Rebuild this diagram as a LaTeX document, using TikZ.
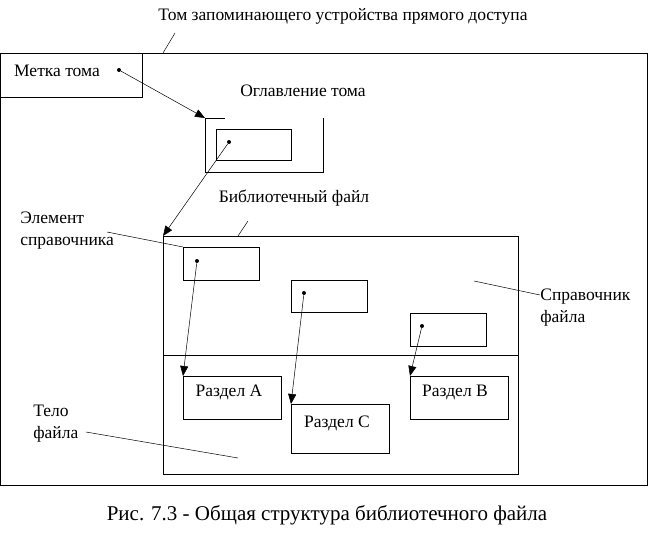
\documentclass[tikz,border=0pt]{standalone}
\usepackage{fontspec}
\setmainfont{Liberation Serif}
\usetikzlibrary{positioning,arrows.meta}
\tikzset{
    libfig/.style={
        x=1pt, y=-1pt,
        line width=0.7pt,
        % rettangoli del disegno
        box/.style={draw, rectangle, anchor=north west, inner sep=0pt},
        % testi
        lbl/.style={font=\fontsize{17.5}{22}\selectfont, inner sep=0pt, align=left},
        % puntini
        ptr/.style={circle, fill, inner sep=0pt, minimum size=4pt},
        % frecce
        link/.style={-{Triangle[length=10pt,width=8pt]}, line width=0.5pt},
        leader/.style={line width=0.5pt}
    }
}
\begin{document}
\begin{tikzpicture}[libfig]
    \useasboundingbox (0,0) rectangle (648,538);
    % volume
    \node[box, minimum width=646pt, minimum height=432pt] (vol) at (0.5,53) {};
    \node[lbl] (voltitle) at (343,16) {Том запоминающего устройства прямого доступа};
    \coordinate (voltip) at (175,33);
    \coordinate (volend) at (163,53);
    \draw[leader] (voltip) -- (volend);
    % etichetta di volume
    \node[box, minimum width=141pt, minimum height=44pt] (label) at (0.5,53) {};
    \node[lbl] (labeltxt) at (57,71) {Метка тома};
    \node[ptr] (labeldot) at (119,70) {};
    % indice del volume
    \node[lbl] (toctxt) at (303,91) {Оглавление тома};
    \coordinate (toc) at (205,118);
    \draw (225,118) -- (toc) -- (205,172) -- (323,172) -- (323,118);
    \node[box, minimum width=75pt, minimum height=31pt] (tocent) at (216,129) {};
    \node[ptr] (tocdot) at (229,142) {};
    \draw[link] (labeldot) -- (toc);
    % file di libreria
    \node[box, minimum width=355pt, minimum height=238pt] (lib) at (163,236) {};
    \draw (lib.west |- 0,355) coordinate (divl) -- (lib.east |- 0,355) coordinate (divr);
    \node[lbl] (libtxt) at (294,198) {Библиотечный файл};
    \coordinate (libtip) at (248,221);
    \coordinate (libend) at (238,236);
    \draw[leader] (libtip) -- (libend);
    \draw[link] (tocdot) -- (lib.north west);
    % elementi della directory
    \node[box, minimum width=76pt, minimum height=33pt] (e1) at (183,247) {};
    \node[box, minimum width=76pt, minimum height=32pt] (e2) at (291,280) {};
    \node[box, minimum width=76pt, minimum height=33pt] (e3) at (410,313) {};
    \node[ptr] (d1) at (197,261) {};
    \node[ptr] (d2) at (304,293) {};
    \node[ptr] (d3) at (422,326) {};
    \node[lbl, anchor=north west] (elemtxt) at (20,212) {Элемент\\справочника};
    \coordinate (elemtip) at (107,232);
    \draw[leader] (elemtip) -- (e1.north west);
    \node[lbl, anchor=north west] (dirtxt) at (540,289) {Справочник\\файла};
    \coordinate (dirtip) at (474,281);
    \coordinate (dirend) at (540,295);
    \draw[leader] (dirtip) -- (dirend);
    % sezioni
    \node[box, minimum width=98pt, minimum height=43pt] (secA) at (183,376) {};
    \node[box, minimum width=98pt, minimum height=49pt] (secC) at (291,404) {};
    \node[box, minimum width=98pt, minimum height=43pt] (secB) at (410,376) {};
    \node[lbl] at (229,392) {Раздел А};
    \node[lbl] at (337,423) {Раздел С};
    \node[lbl] at (455,392) {Раздел В};
    \draw[link] (d1) -- (secA.north west);
    \draw[link] (d2) -- (secC.north west);
    \draw[link] (d3) -- (secB.north west);
    % corpo del file
    \node[lbl, anchor=north west] (bodytxt) at (33,405) {Тело\\файла};
    \coordinate (bodytip) at (86,432);
    \coordinate (bodyend) at (238,458);
    \draw[leader] (bodytip) -- (bodyend);
    % didascalia
    \node[lbl, font=\fontsize{21}{24}\selectfont] (caption) at (327,515) {Рис. 7.3 - Общая структура библиотечного файла};
\end{tikzpicture}
\end{document}
